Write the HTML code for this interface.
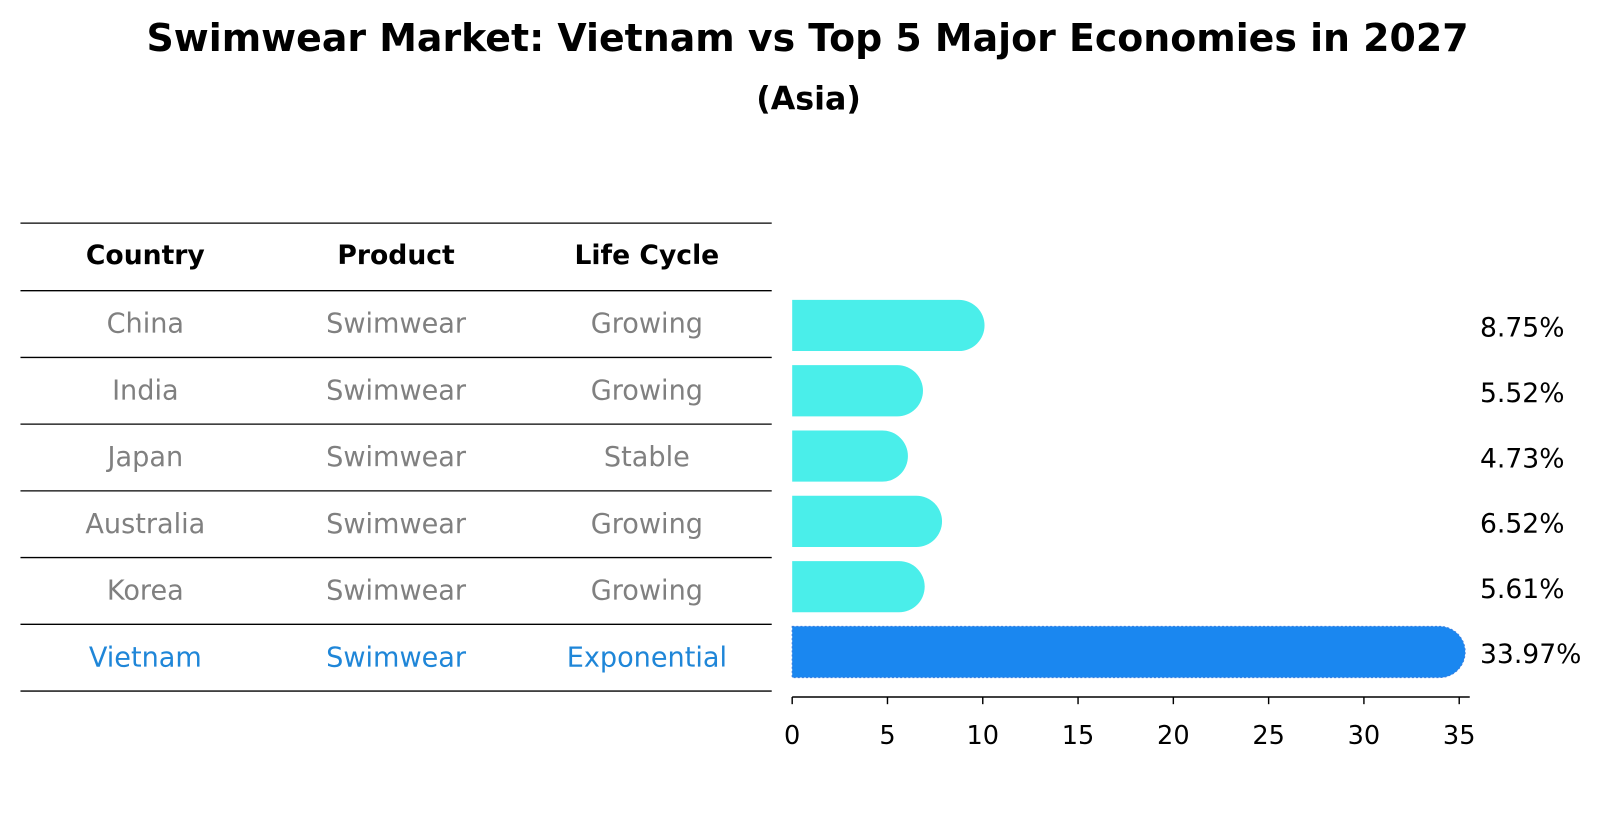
<!DOCTYPE html>
<html><head><meta charset="utf-8"><style>
body{margin:0;background:#fff;}
svg{display:block;font-family:"DejaVu Sans","Liberation Sans",sans-serif;}
</style></head><body>
<svg id="chart" width="1604" height="823" viewBox="0 0 1604 823">
<g transform="scale(1.0235)">
<text x="789" y="50" text-anchor="middle" font-size="37" font-weight="bold">Swimwear Market: Vietnam vs Top 5 Major Economies in 2027</text>
<text x="790" y="107" text-anchor="middle" font-size="31" font-weight="bold">(Asia)</text>
<g id="table"></g>
<g id="bars"></g>
<g id="axis"></g>
</g>
</svg>
<script>
const countries=["China","India","Japan","Australia","Korea","Vietnam"];
const products=["Swimwear","Swimwear","Swimwear","Swimwear","Swimwear","Swimwear"];
const lifeCycles=["Growing","Growing","Stable","Growing","Growing","Exponential"];
const values=[8.75,5.52,4.73,6.52,5.61,33.97];
const tickValues=[0,5,10,15,20,25,30,35];
const NS="http://www.w3.org/2000/svg";
function mk(tag,attrs,parent){const e=document.createElementNS(NS,tag);for(const k in attrs)e.setAttribute(k,attrs[k]);parent.appendChild(e);return e;}
const x0=774,xPer=18.62;
const xs=v=>x0+v*xPer;
const rowTop=284,rowH=65.2;
const yc=i=>318+i*63.8;
const table=document.getElementById('table');
const colX=[142,387,632];
const heads=["Country","Product","Life Cycle"];
heads.forEach((h,j)=>{const t=mk('text',{x:colX[j],y:258,'text-anchor':'middle','font-size':26,'font-weight':'bold'},table);t.textContent=h;

});
for(let i=0;i<=countries.length+1;i++){const y=i==0?218:rowTop+(i-1)*rowH;
const l=mk('line',{x1:20,x2:754,y1:y,y2:y,stroke:'#000','stroke-width':1.3},table);

}
countries.forEach((c,i)=>{const col=i==countries.length-1?'#1f86d8':'#808080';
[c,products[i],lifeCycles[i]].forEach((v,j)=>{const t=mk('text',{x:colX[j],y:rowTop+i*rowH+41,'text-anchor':'middle','font-size':26.5,fill:col},table);t.textContent=v;

});});
const bars=document.getElementById('bars');
const bh=50,r=25;
values.forEach((v,i)=>{const isV=i==values.length-1;const fill=isV?'#1a87f0':'#4aeeea';
const y=yc(i);const xe=xs(v);
const p=mk('path',{d:`M${x0},${y-bh/2} H${xe} A${r},${r} 0 0 1 ${xe},${y+bh/2} H${x0} Z`,fill:fill},bars);
if(isV){p.setAttribute('stroke','#3a7fe0');p.setAttribute('stroke-dasharray','2,2');}


const t=mk('text',{x:1446,y:y+11,'font-size':26},bars);t.textContent=v.toFixed(2)+'%';

});
const axis=document.getElementById('axis');
const al=mk('line',{x1:x0,x2:1436,y1:681,y2:681,stroke:'#000','stroke-width':1.4},axis);


tickValues.forEach(v=>{const tl=mk('line',{x1:xs(v),x2:xs(v),y1:681,y2:688,stroke:'#000','stroke-width':1.4},axis);


const t=mk('text',{x:xs(v),y:727,'text-anchor':'middle','font-size':25},axis);t.textContent=v;

});
</script>
</body></html>
